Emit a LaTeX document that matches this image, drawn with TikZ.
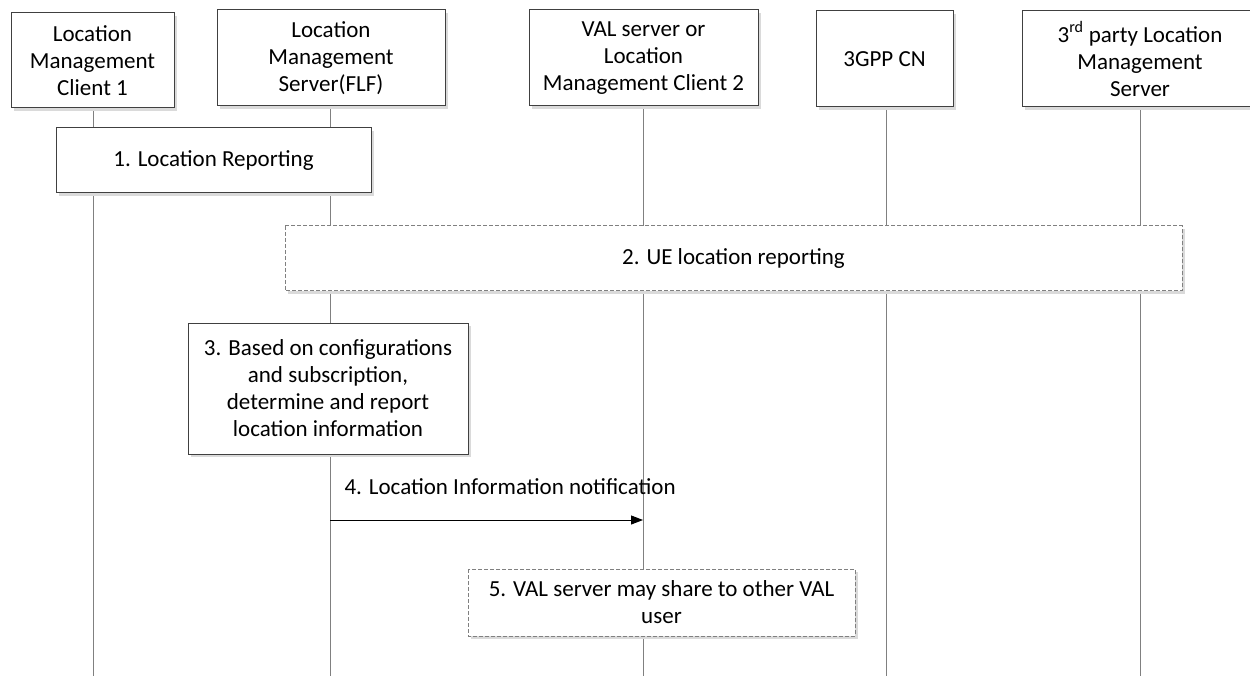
\documentclass[tikz,border=0pt]{standalone}
\usepackage{fontspec}
\setmainfont{Carlito}
\usetikzlibrary{arrows.meta}
\definecolor{boxline}{HTML}{404040}
\definecolor{lifeline}{HTML}{808080}
\definecolor{shadowc}{HTML}{DADADA}
\begin{document}
\begin{tikzpicture}[x=1pt,y=-1pt,
  txt/.style={font=\fontsize{23}{27}\selectfont, align=center},
  solidbox/.style={draw=boxline, line width=1pt, fill=white},
  dashbox/.style={draw=lifeline, line width=1pt, fill=white, dash pattern=on 4pt off 2pt},
  shadowbox/.style={fill=shadowc, draw=none},
  lifel/.style={draw=lifeline, line width=1pt},
  msg/.style={draw=black, line width=1pt, -{Triangle[length=12pt,width=9pt]}}
]
\useasboundingbox (0,0) rectangle (1250,676);
\fill[white] (0,0) rectangle (1250,676);

% lifeline coordinates
\coordinate (t1) at (93,108);  \coordinate (b1) at (93,676);
\coordinate (t2) at (330,106); \coordinate (b2) at (330,676);
\coordinate (t3) at (643,106); \coordinate (b3) at (643,676);
\coordinate (t4) at (886,107); \coordinate (b4) at (886,676);
\coordinate (t5) at (1140,107); \coordinate (b5) at (1140,676);
\draw[lifel] (t1) -- (b1);
\draw[lifel] (t2) -- (b2);
\draw[lifel] (t3) -- (b3);
\draw[lifel] (t4) -- (b4);
\draw[lifel] (t5) -- (b5);

% header boxes
\fill[shadowbox] (14,16) rectangle (177,111);
\draw[solidbox] (11,13) rectangle (174,108);
\node[txt] (h1) at (92.5,60.5) {Location\\Management\\Client 1};

\fill[shadowbox] (220,13) rectangle (448,109);
\draw[solidbox] (217,10) rectangle (445,106);
\node[txt] (h2) at (331,58) {Location\\Management\\Server(FLF)};

\fill[shadowbox] (532,13) rectangle (761,109);
\draw[solidbox] (529,10) rectangle (758,106);
\node[txt] (h3) at (643.5,58) {VAL server or\\Location\\Management Client 2};

\fill[shadowbox] (819,14) rectangle (956,110);
\draw[solidbox] (816,11) rectangle (953,107);
\node[txt] (h4) at (884.5,59) {3GPP CN};

\fill[shadowbox] (1025,14) rectangle (1261,110);
\draw[solidbox] (1022,11) rectangle (1258,107);
\node[txt] (h5) at (1140,59) {3\textsuperscript{rd} party Location\\Management\\Server};

% step 1
\fill[shadowbox] (59,131) rectangle (374,196);
\draw[solidbox] (56,128) rectangle (371,193);
\node[txt] (s1) at (213.5,160.5) {1. Location Reporting};

% step 2
\fill[shadowbox] (288,229) rectangle (1185,294);
\draw[dashbox] (285,226) rectangle (1182,291);
\node[txt] (s2) at (733.5,258.5) {2. UE location reporting};

% step 3
\fill[shadowbox] (191,326) rectangle (471,457);
\draw[solidbox] (188,323) rectangle (468,454);
\node[txt] (s3) at (328,388.5) {3. Based on configurations\\and subscription,\\determine and report\\location information};

% step 4 message
\coordinate (m4a) at (330,520);
\coordinate (m4b) at (643,520);
\draw[msg] (m4a) -- (m4b);
\node[txt, anchor=west] (l4) at (341,487) {4. Location Information notification};

% step 5
\fill[shadowbox] (471,572) rectangle (858,639);
\draw[dashbox] (468,569) rectangle (855,636);
\node[txt] (s5) at (661.5,602.5) {5. VAL server may share to other VAL\\user};
\end{tikzpicture}
\end{document}
